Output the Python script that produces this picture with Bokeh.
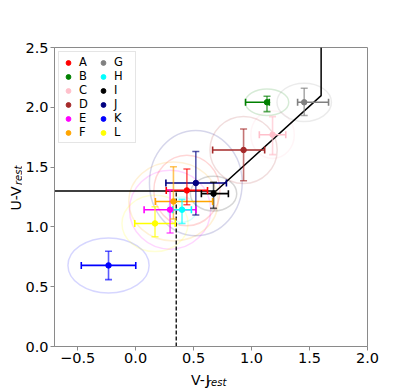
import numpy as np
from bokeh.plotting import figure
from bokeh.layouts import row, column
from bokeh.models import (Range1d, FixedTicker, Label, Legend, LegendItem,
                          ColumnDataSource)
from bokeh.embed import file_html
from bokeh.resources import INLINE

# ---------------- data ----------------
names = ["A", "B", "C", "D", "E", "F", "G", "H", "I", "J", "K", "L"]
colors = ["red", "green", "pink", "brown", "magenta", "orange",
          "gray", "cyan", "black", "navy", "blue", "yellow"]
vj = np.array([0.442, 1.133, 1.181, 0.931, 0.297, 0.326,
               1.454, 0.400, 0.672, 0.519, -0.234, 0.167])
uv = np.array([1.305, 2.042, 1.771, 1.643, 1.144, 1.213,
               2.042, 1.144, 1.278, 1.367, 0.678, 1.029])
vj_err_lo = np.array([0.178, 0.185, 0.114, 0.267, 0.224, 0.156,
                      0.057, 0.081, 0.105, 0.258, 0.235, 0.175])
vj_err_hi = np.array([0.178, 0.020, 0.114, 0.182, 0.224, 0.338,
                      0.210, 0.081, 0.128, 0.264, 0.235, 0.175])
uv_err_lo = np.array([0.120, 0.078, 0.167, 0.257, 0.195, 0.147,
                      0.111, 0.115, 0.123, 0.268, 0.119, 0.111])
uv_err_hi = np.array([0.179, 0.050, 0.151, 0.176, 0.165, 0.290,
                      0.117, 0.086, 0.095, 0.264, 0.119, 0.140])
ell_w = np.array([0.57, 0.375, 0.375, 0.58, 0.70, 0.77,
                  0.47, 0.25, 0.40, 0.80, 0.70, 0.57])
ell_h = np.array([0.59, 0.223, 0.40, 0.56, 0.66, 0.66,
                  0.32, 0.21, 0.29, 0.88, 0.46, 0.47])

# UVJ selection boundary
uv_cut = 1.3
vj_cut = 1.6
slope = 0.88
intercept = 0.69
vj_split = 0.35

x_min, x_max = -0.7, 2.0
y_min, y_max = 0.0, 2.5
xticks = [-0.5, 0.0, 0.5, 1.0, 1.5, 2.0]
xtick_labels = ["\u22120.5", "0.0", "0.5", "1.0", "1.5", "2.0"]
yticks = [0.0, 0.5, 1.0, 1.5, 2.0, 2.5]
ytick_labels = ["0.0", "0.5", "1.0", "1.5", "2.0", "2.5"]

FONT = "DejaVu Sans"
GREY = "#8a8a8a"

p = figure(width=385, height=370, output_backend="svg", toolbar_location=None,
           x_range=Range1d(x_min, x_max), y_range=Range1d(y_min, y_max),
           min_border_left=28, min_border_right=40, min_border_top=47,
           min_border_bottom=24)
p.grid.visible = False
p.outline_line_color = GREY
p.outline_line_width = 1
p.background_fill_color = "white"
p.border_fill_color = "white"

p.xaxis.ticker = FixedTicker(ticks=xticks)
p.yaxis.ticker = FixedTicker(ticks=yticks)
p.xaxis.major_label_overrides = {t: l for t, l in zip(xticks, xtick_labels)}
p.yaxis.major_label_overrides = {t: l for t, l in zip(yticks, ytick_labels)}
for ax in (p.xaxis, p.yaxis):
    ax.axis_line_color = GREY
    ax.major_tick_line_color = GREY
    ax.minor_tick_line_color = None
    ax.major_tick_in = 0
    ax.major_tick_out = 4
    ax.major_label_standoff = 2
    ax.major_label_text_font = FONT
    ax.major_label_text_font_size = "14.5px"
    ax.major_label_text_color = "black"

src = ColumnDataSource(dict(
    x=vj, y=uv, color=colors,
    xl=vj - vj_err_lo, xh=vj + vj_err_hi,
    yl=uv - uv_err_lo, yh=uv + uv_err_hi,
    ew=ell_w, eh=ell_h))

# uncertainty ellipses
p.ellipse(x="x", y="y", width="ew", height="eh", source=src,
          fill_color=None, line_color="color", line_alpha=0.16, line_width=1.5)

# selection boundary
bx = [x_min, (uv_cut - intercept) / slope, vj_cut, vj_cut]
by = [uv_cut, uv_cut, slope * vj_cut + intercept, y_max]
p.line(bx, by, line_color="black", line_width=1.5)
p.line([vj_split, vj_split], [y_min, uv_cut], line_color="black",
       line_width=1.3, line_dash="4 2")

# error bars
p.segment(x0="xl", y0="y", x1="xh", y1="y", source=src,
          line_color="color", line_width=1.6)
p.segment(x0="x", y0="yl", x1="x", y1="yh", source=src,
          line_color="color", line_alpha=0.65, line_width=1.6)
for cx in ("xl", "xh"):
    p.scatter(x=cx, y="y", source=src, marker="dash", angle=np.pi / 2,
              size=7, line_color="color", line_width=1.6)
for cy in ("yl", "yh"):
    p.scatter(x="x", y=cy, source=src, marker="dash", size=7,
              line_color="color", line_alpha=0.65, line_width=1.6)

pts = p.scatter(x="x", y="y", source=src, size=5.5, fill_color="color",
                line_color="color")

items = [LegendItem(label=n, renderers=[pts], index=i)
         for i, n in enumerate(names)]
legend = Legend(items=items, location="top_left", nrows=6, margin=4,
                padding=3, spacing=0, glyph_width=12, glyph_height=13,
                label_height=13, label_width=18, label_standoff=5,
                label_text_font=FONT, label_text_font_size="11.5px",
                label_text_color="black",
                border_line_color="#cccccc", border_line_width=1,
                background_fill_alpha=0.8)
p.add_layout(legend, "center")


def text_panel(w, h):
    f = figure(width=w, height=h, output_backend="svg", toolbar_location=None,
               x_axis_type=None, y_axis_type=None,
               x_range=Range1d(0, w), y_range=Range1d(0, h),
               min_border=0, min_border_left=0, min_border_right=0,
               min_border_top=0, min_border_bottom=0)
    f.grid.visible = False
    f.outline_line_color = None
    f.background_fill_color = "white"
    f.border_fill_color = "white"
    return f


# x-axis title panel (below the plot)
xfig = text_panel(385, 19)
xfig.add_layout(Label(x=168, y=10, text="V-J", text_font=FONT,
                      text_font_size="14px", text_color="black",
                      text_baseline="alphabetic"))
xfig.add_layout(Label(x=187.5, y=7.5, text="rest", text_font=FONT,
                      text_font_size="10px", text_color="black",
                      text_font_style="italic", text_baseline="alphabetic"))

# y-axis title panel (left of the plot)
yfig = text_panel(22, 389)
yfig.add_layout(Label(x=15, y=179, angle=np.pi / 2, text="U-V",
                      text_font=FONT, text_font_size="14px",
                      text_color="black", text_baseline="alphabetic"))
yfig.add_layout(Label(x=17.5, y=204.5, angle=np.pi / 2, text="rest",
                      text_font=FONT, text_font_size="10px",
                      text_color="black", text_font_style="italic",
                      text_baseline="alphabetic"))

layout = row(yfig, column(p, xfig))
open("out.html", "w").write(file_html(layout, INLINE))
